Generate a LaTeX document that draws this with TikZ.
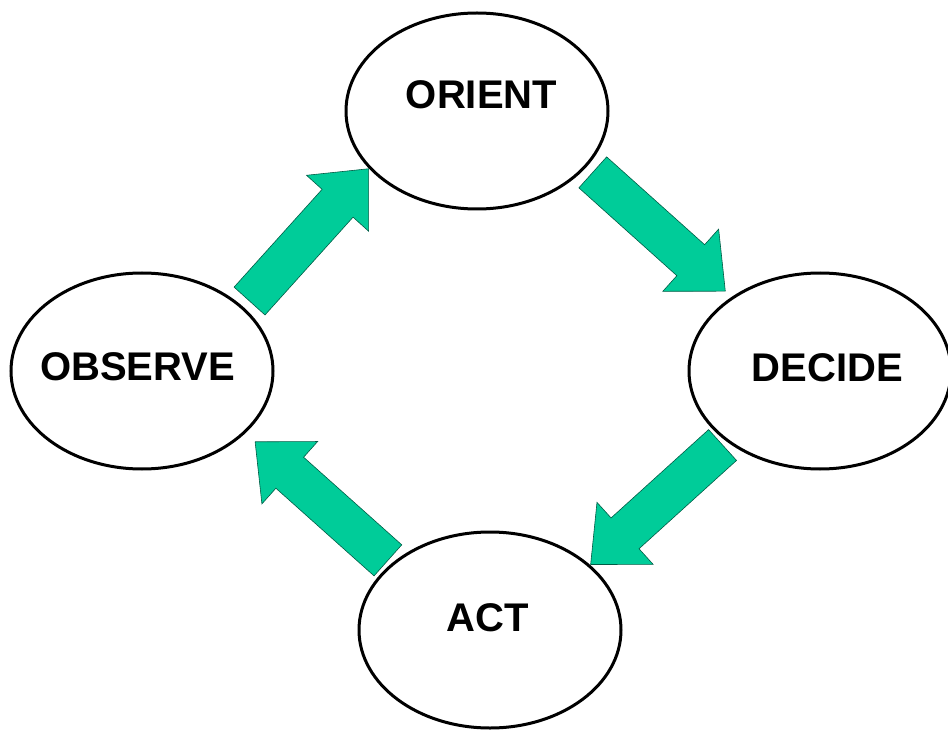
\documentclass[tikz,border=0pt]{standalone}
\usepackage{fontspec}
\setmainfont{Liberation Sans}
\usepackage{xcolor}
\usepackage{tikz}
\usetikzlibrary{arrows.meta,positioning,shapes.geometric,shapes.arrows}

\definecolor{loopgreen}{RGB}{0,204,153}

\begin{document}
\begin{tikzpicture}[x=1pt, y=-1pt,
    stage/.style={ellipse, draw=black, line width=3pt, fill=white,
        minimum width=262pt, minimum height=196pt, inner sep=0pt},
    word/.style={font=\fontsize{40}{48}\selectfont\bfseries, inner sep=0pt},
    flow/.style={single arrow, sloped, allow upside down, fill=loopgreen,
        draw=loopgreen!45!black, line width=0.6pt, minimum height=178pt,
        single arrow head extend=21pt, single arrow tip angle=84,
        inner xsep=0pt, inner ysep=20.5pt}]
    \useasboundingbox (0,0) rectangle (948,730);

    % The four stages of the loop
    \foreach \name/\x/\y/\tx/\ty/\txt in {ori/477/111/481.5/95/ORIENT,
        obs/142/371/137.5/367/OBSERVE, dec/820/371/827.5/367.5/DECIDE,
        act/490/630/487.5/618/ACT} {
        \node[stage] (\name) at (\x,\y) {};
        \node[word] (\name-txt) at (\tx,\ty) {\txt};
    }

    % Block arrows going round the loop
    \path (obs.32) -- (ori.208) node[flow, pos=0.46] (obs-ori) {};
    \path (ori.-27) -- (dec.140) node[flow, pos=0.44] (ori-dec) {};
    \path (dec.217) -- (act.33) node[flow, pos=0.45] (dec-act) {};
    \path (act.146) -- (obs.-31) node[flow, pos=0.42] (act-obs) {};
\end{tikzpicture}
\end{document}
